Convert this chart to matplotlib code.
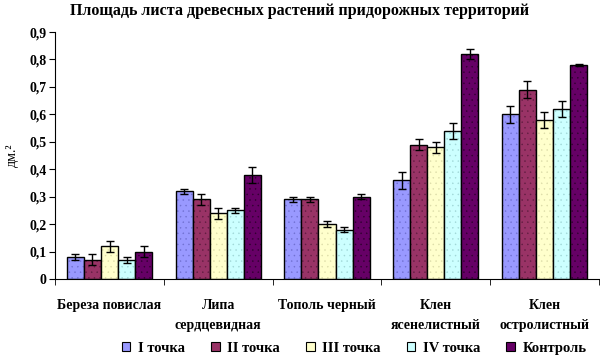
import numpy as np
import matplotlib.pyplot as plt
from matplotlib.ticker import FuncFormatter

plt.rcParams['font.family'] = ['Liberation Serif', 'DejaVu Serif']
plt.rcParams['font.weight'] = 'bold'
plt.rcParams['hatch.linewidth'] = 0.3

# данные
porody = ['Береза повислая', 'Липа\nсердцевидная', 'Тополь черный',
          'Клен\nясенелистный', 'Клен\nостролистный']
serii = ['I точка', 'II точка', 'III точка', 'IV точка', 'Контроль']
t1 = [0.08, 0.32, 0.29, 0.36, 0.60]
t2 = [0.07, 0.29, 0.29, 0.49, 0.69]
t3 = [0.12, 0.24, 0.20, 0.48, 0.58]
t4 = [0.07, 0.25, 0.18, 0.54, 0.62]
kontr = [0.10, 0.38, 0.30, 0.82, 0.78]
e1 = [0.01, 0.01, 0.01, 0.03, 0.03]
e2 = [0.02, 0.02, 0.01, 0.02, 0.03]
e3 = [0.02, 0.02, 0.01, 0.02, 0.03]
e4 = [0.01, 0.01, 0.01, 0.03, 0.03]
ek = [0.02, 0.03, 0.01, 0.02, 0.005]
kleuren = ['#9999FF', '#993366', '#FFFFCC', '#CCFFFF', '#660066']
stip = ['#6f6fd0', '#5e1d40', '#dcdca8', '#9fd6d6', '#2e002e']

waarden = [t1, t2, t3, t4, kontr]
fouten = [e1, e2, e3, e4, ek]

fig = plt.figure(figsize=(6, 3.56), dpi=100)
ax = fig.add_axes([0.092, 0.216, 0.906, 0.694])

x = np.arange(len(porody))
w = 0.157
for i in range(5):
    pos = x - 2 * w + i * w
    # stippen
    ax.bar(pos, waarden[i], w, color=kleuren[i], edgecolor=stip[i], hatch='...', linewidth=0)
    ax.bar(pos, waarden[i], w, color='none', edgecolor='black', linewidth=1.0, label=serii[i])
    ax.errorbar(pos, waarden[i], yerr=fouten[i], fmt='none', ecolor='black', elinewidth=1, capsize=3, capthick=1)

ax.set_xlim(-0.5, 4.5)
ax.set_ylim(0, 0.9)
ax.set_yticks(np.arange(0, 0.91, 0.1))
ax.yaxis.set_major_formatter(FuncFormatter(lambda v, p: '0' if v == 0 else ('%.1f' % v).replace('.', ',')))
ax.set_xticks(x)
ax.set_xticklabels(porody, fontsize=10, va='top', linespacing=1.7)
ax.set_xticks(np.arange(-0.5, 4.6, 1), minor=True)
ax.tick_params(axis='x', which='major', length=0, pad=14)
ax.tick_params(axis='x', which='minor', length=4, direction='out')
ax.tick_params(axis='y', length=4, direction='out', labelsize=10, pad=2)
for s in ['top', 'right']:
    ax.spines[s].set_visible(False)

ax.set_ylabel('дм.²', fontsize=10, labelpad=8)
fig.text(0.5, 0.968, 'Площадь листа древесных растений придорожных территорий',
         ha='center', va='center', fontsize=11.5, fontweight='bold')

handles = []
for i in range(5):
    handles.append(plt.Rectangle((0, 0), 1, 1, facecolor=kleuren[i], edgecolor='black', linewidth=0.8))
fig.legend(handles, serii, loc='center', bbox_to_anchor=(0.59, 0.022), ncol=5, frameon=False,
           fontsize=10.5, handlelength=0.6, handleheight=0.6, handletextpad=0.5, columnspacing=1.8)

fig.savefig('out.png', dpi=100)
